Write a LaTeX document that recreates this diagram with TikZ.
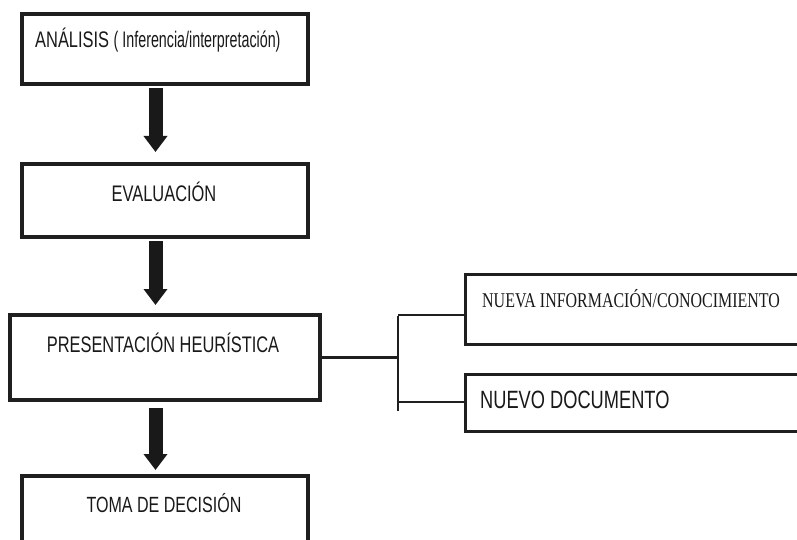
\documentclass[tikz,border=0pt]{standalone}
\usepackage{fontspec}
\usetikzlibrary{arrows.meta}
\newfontfamily\condsans[FakeStretch=0.73]{Liberation Sans}
\newfontfamily\condserif[FakeStretch=0.76]{Liberation Serif}
\begin{document}
\begin{tikzpicture}[x=1pt,y=-1pt,
  mainbox/.style={draw=black!88,line width=4.5pt,inner sep=0pt,outer sep=0pt},
  sidebox/.style={draw=black!88,line width=3pt,inner sep=0pt,outer sep=0pt},
  lbl/.style={inner sep=0pt,anchor=base,text=black!90},
  bigarrow/.style={line width=14pt,black!90,-{Triangle[width=23pt,length=16pt]}},
  link/.style={line width=2.6pt,black!88}]
\useasboundingbox (0,0) rectangle (797,540);
\clip (0,0) rectangle (797,540);
\fill[white] (0,0) rectangle (797,540);
% boxes
\node[mainbox,minimum width=286pt,minimum height=70pt] (n1) at (165,49) {};
\node[mainbox,minimum width=286pt,minimum height=73pt] (n2) at (165,200.5) {};
\node[mainbox,minimum width=310pt,minimum height=85pt] (n3) at (165,357.5) {};
\node[mainbox,minimum width=286pt,minimum height=84pt] (n4) at (165,518) {};
\node[sidebox,minimum width=335pt,minimum height=70pt] (n5) at (632.5,309.5) {};
\node[sidebox,minimum width=335pt,minimum height=57pt] (n6) at (632.5,403) {};
% labels
\node[lbl,anchor=base west] (t1) at (35,48) {\fontsize{22.5}{26}\selectfont\condsans ANÁLISIS \scalebox{0.87}[1]{( Inferencia/interpretación)}};
\node[lbl] (t2) at (164,201) {\fontsize{22.5}{26}\selectfont\condsans EVALUACIÓN};
\node[lbl] (t3) at (163,352) {\fontsize{22.5}{26}\selectfont\condsans PRESENTACIÓN HEURÍSTICA};
\node[lbl] (t4) at (164,512) {\fontsize{22}{26}\selectfont\condsans TOMA DE DECISIÓN};
\node[lbl,anchor=base west] (t5) at (482,307) {\fontsize{21}{24}\selectfont\condserif NUEVA INFORMACIÓN/CONOCIMIENTO};
\node[lbl,anchor=base west] (t6) at (480,408) {\fontsize{25}{28}\selectfont\condsans NUEVO DOCUMENTO};
% arrows
\coordinate (ax) at (155.5,0);
\draw[bigarrow,shorten <=4pt,shorten >=12pt] (n1.south -| ax) -- (n2.north -| ax);
\draw[bigarrow,shorten <=4pt,shorten >=10pt] (n2.south -| ax) -- (n3.north -| ax);
\draw[bigarrow,shorten <=8pt,shorten >=6pt] (n3.south -| ax) -- (n4.north -| ax);
% connectors
\coordinate (j) at (398,357.5);
\coordinate (sT) at (398,315);
\coordinate (sB) at (398,411);
\coordinate (b6) at (398,402);
\draw[link] (n3.east) -- (j);
\draw[link] ([yshift=-1.3pt]sT) -- (sB);
\draw[link] (sT) -- (sT -| n5.west);
\draw[link] (b6) -- (b6 -| n6.west);
\end{tikzpicture}
\end{document}
